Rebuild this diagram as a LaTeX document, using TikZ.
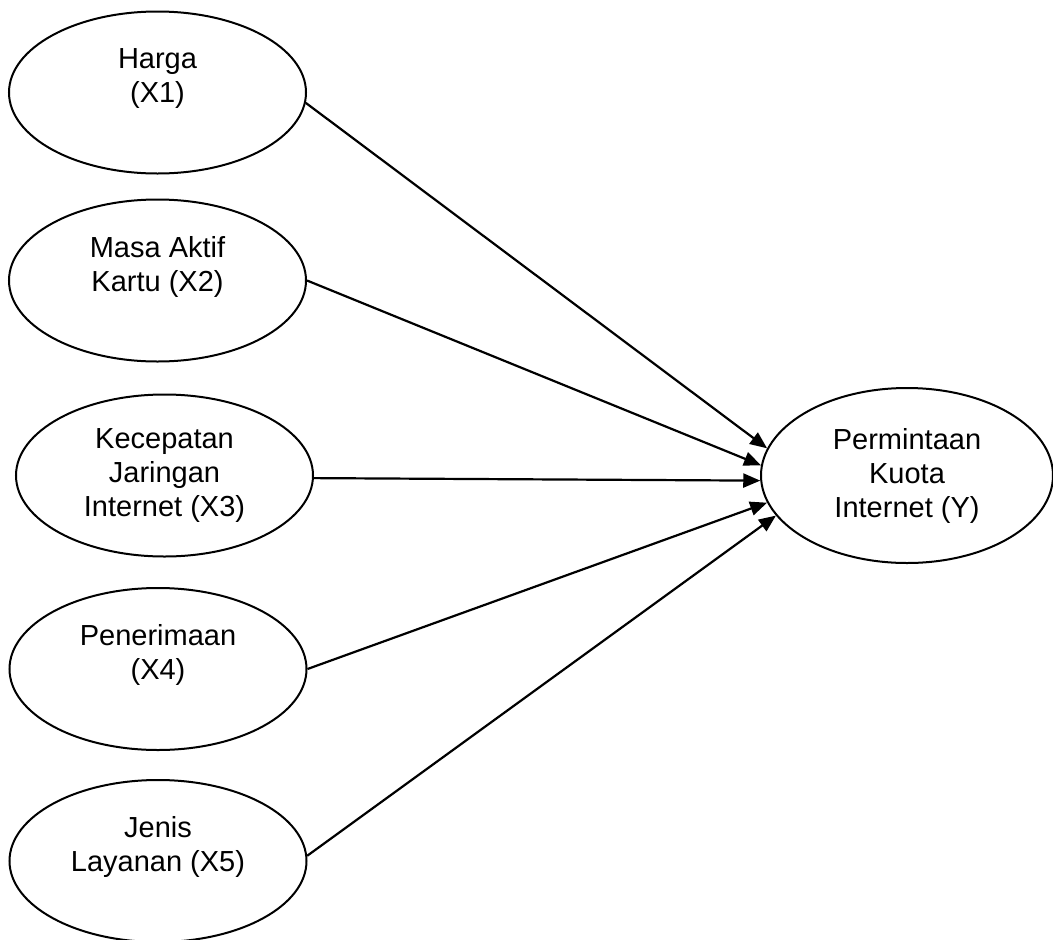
\documentclass[tikz,border=0pt]{standalone}
\usepackage{fontspec}
\setmainfont{Liberation Sans}
\usetikzlibrary{shapes.geometric,arrows.meta}
\begin{document}
\begin{tikzpicture}[x=1pt,y=-1pt,
  var/.style={ellipse,draw,line width=2pt,inner sep=0pt,align=center,
    minimum width=297pt,minimum height=162pt,
    font=\fontsize{29}{34}\selectfont},
  link/.style={line width=2.2pt,-{Triangle[length=17pt,width=14pt]}}]
\useasboundingbox (0,0) rectangle (1053,940);
\node[var] (x1) at (157.5,92.5) {Harga\\(X1)\\\mbox{}};
\node[var] (x2) at (157.5,280.5) {Masa Aktif\\Kartu (X2)\\\mbox{}};
\node[var] (x3) at (164.5,475.5) {Kecepatan\\Jaringan\\Internet (X3)};
\node[var] (x4) at (158,669) {Penerimaan\\(X4)\\\mbox{}};
\node[var] (x5) at (158,861) {Jenis\\Layanan (X5)\\\mbox{}};
\node[var,minimum width=292pt,minimum height=175pt] (y) at (907,475.5) {Permintaan\\Kuota\\Internet (Y)};
\draw[link] (x1.-4.8) -- (y.169.9);
\draw[link] (x2.0) -- (y.176.6);
\draw[link] (x3.-1.4) -- (y.182.2);
\draw[link] (x4.0.4) -- (y.191.2);
\draw[link] (x5.2) -- (y.197.7);
\end{tikzpicture}
\end{document}
